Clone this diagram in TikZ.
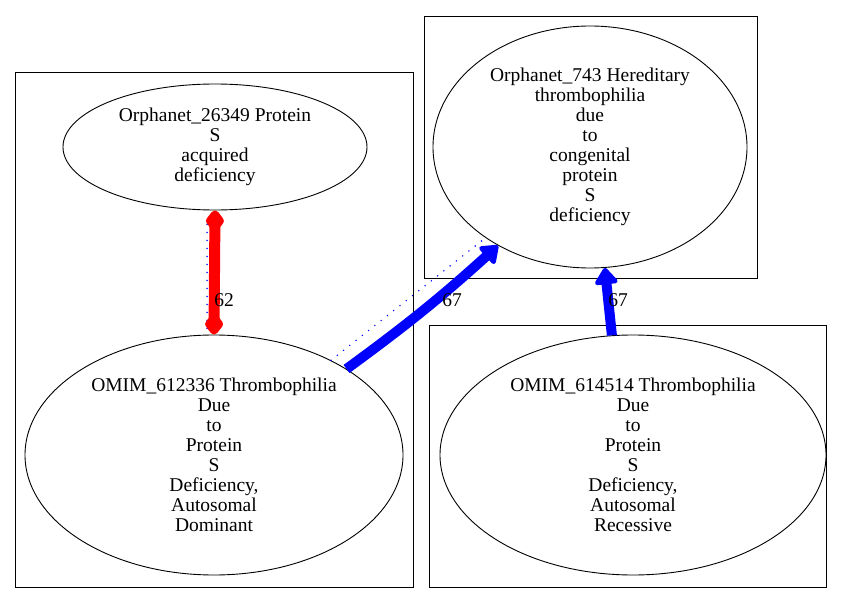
\documentclass[tikz,border=0pt]{standalone}
\usepackage{fontspec}
\setmainfont{Liberation Serif}
\usetikzlibrary{shapes.geometric,arrows.meta}
\begin{document}
\begin{tikzpicture}[x=1pt,y=-1pt,
  cluster/.style={draw,line width=0.9pt,inner sep=0,anchor=north west},
  ell/.style={draw,ellipse,line width=0.9pt,inner sep=0,align=center,font=\fontsize{19.5}{20}\selectfont},
  lbl/.style={font=\fontsize{19.5}{20}\selectfont,inner sep=0},
  thickred/.style={draw=red,line width=11pt,{Diamond[round,length=26pt,width=20pt]}-{Diamond[round,length=26pt,width=20pt]}},
  thickblue/.style={draw=blue,line width=10pt,-{Triangle[round,length=18pt,width=26pt]}},
  dots/.style={draw=blue,line width=1.6pt,line cap=round,dash pattern=on 0pt off 8pt}]
\useasboundingbox (0,0) rectangle (843,604);
\fill[white] (0,0) rectangle (843,604);
% clusters
\node[cluster,minimum width=398pt,minimum height=515pt] (c1) at (15,72) {};
\node[cluster,minimum width=333pt,minimum height=262pt] (c2) at (424,16) {};
\node[cluster,minimum width=397pt,minimum height=262pt] (c3) at (429,325) {};
% nodes
\node[ell,minimum width=304pt,minimum height=126pt] (n1) at (215,147) {Orphanet\_26349 Protein\\S\\acquired\\deficiency};
\node[ell,minimum width=378pt,minimum height=240pt] (n2) at (214,455) {OMIM\_612336 Thrombophilia\\Due\\to\\Protein\\S\\Deficiency,\\Autosomal\\Dominant};
\node[ell,minimum width=314pt,minimum height=242pt] (n3) at (590,147) {Orphanet\_743 Hereditary\\thrombophilia\\due\\to\\congenital\\protein\\S\\deficiency};
\node[ell,minimum width=386pt,minimum height=240pt] (n4) at (633,455) {OMIM\_614514 Thrombophilia\\Due\\to\\Protein\\S\\Deficiency,\\Autosomal\\Recessive};
% edges
\draw[dots] ([xshift=-8pt,yshift=-14pt]n1.south) -- ([xshift=-7pt,yshift=3pt]n2.north);
\draw[thickred] (n1.270) -- (n2.90);
\node[lbl] (l1) at (224,300) {62};
\draw[dots] (n2.39) -- (n3.221);
\draw[thickblue] (n2.33) to[bend right=3] (n3.227);
\node[lbl] (l2) at (452,300) {67};
\draw[dots] (n4.98) -- (n3.275);
\draw[thickblue] (n4.100) -- (n3.277);
\node[lbl] (l3) at (618,300) {67};
\end{tikzpicture}
\end{document}
